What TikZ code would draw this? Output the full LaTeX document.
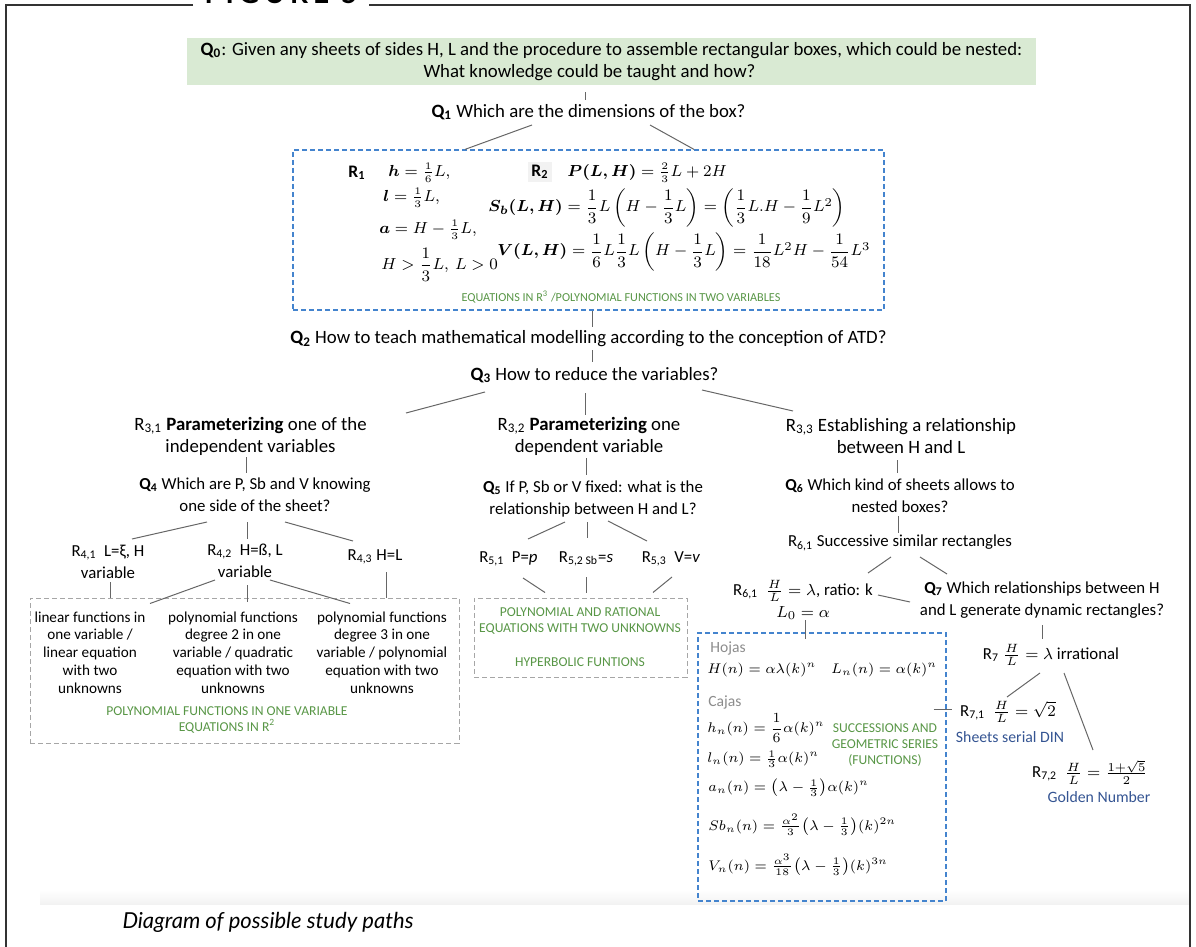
\documentclass[tikz,border=0pt]{standalone}
\usepackage{amsmath,bm}
\usepackage{fontspec}
\setmainfont{Carlito}
\newfontfamily\capfont{Lato}
\usetikzlibrary{calc}

\definecolor{qgreen}{RGB}{217,234,211}
\definecolor{lblgreen}{RGB}{88,150,70}
\definecolor{dashblue}{RGB}{68,132,206}
\definecolor{navytext}{RGB}{52,84,146}
\definecolor{hintgray}{RGB}{140,140,140}

\newcommand{\Qn}[1]{\textbf{Q\textsubscript{#1}}}
\newcommand{\Rn}[1]{R\textsubscript{#1}}

\tikzset{
  every node/.style={inner sep=0pt, font=\fontsize{8.4}{11}\selectfont},
  bigq/.style={font=\fontsize{9.4}{11}\selectfont},
  link/.style={draw=black!60, line width=0.5pt},
  bluebox/.style={draw=dashblue, line width=0.6pt, dash pattern=on 2.5pt off 1.5pt},
  graybox/.style={draw=black!35, line width=0.5pt, dash pattern=on 2.5pt off 1.5pt},
  greenlbl/.style={text=lblgreen, align=center, font=\fontsize{6.8}{8}\selectfont},
  colnote/.style={align=center, font=\fontsize{7.6}{8.9}\selectfont},
  navylbl/.style={text=navytext, font=\fontsize{7.9}{10}\selectfont},
  hintlbl/.style={text=hintgray, anchor=west, font=\fontsize{7.8}{10}\selectfont},
  eqn/.style={anchor=west, font=\fontsize{7.6}{10}\selectfont},
  eqnbig/.style={anchor=west, font=\fontsize{8}{10}\selectfont},
  seqn/.style={anchor=west, font=\fontsize{7.4}{10}\selectfont}
}

\begin{document}
\begin{tikzpicture}[x=0.5pt, y=-0.5pt]
\useasboundingbox (0,0) rectangle (1196,947);
\clip (0,0) rectangle (1196,947);

\shade[top color=white, bottom color=black!5] (40,890) rectangle (1190,904);
\draw[black!80, line width=0.9pt] (193,5) -- (6,5) -- (6,960)
  (369,5) -- (1190,5) -- (1190,960);
\node[anchor=base, font=\capfont\bfseries\fontsize{14}{14}\selectfont\addfontfeatures{LetterSpace=18}] (title) at (281,4) {FIGURE 5};

\node[bigq, fill=qgreen, minimum width=424.5pt, minimum height=23.5pt, align=center] (q0) at (611.5,61.5)
  {\Qn{0}: Given any sheets of sides H, L and the procedure to assemble rectangular boxes, which could be nested:\\
   What knowledge could be taught and how?\hspace*{22pt}};
\node[bigq] (q1) at (588.5,112) {\Qn{1} Which are the dimensions of the box?};

\node[bluebox, minimum width=295.5pt, minimum height=80pt] (eqs) at (588.5,230) {};
\node[font=\bfseries\fontsize{8.8}{11}\selectfont] (r1) at (357,173) {R\textsubscript{1}};
\node[eqn] (r1h) at (388,173) {$\bm{h} = \frac{1}{6}L,$};
\node[eqn] (r1l) at (383,198) {$\bm{l} = \frac{1}{3}L,$};
\node[eqn] (r1a) at (379,230) {$\bm{a} = H - \frac{1}{3}L,$};
\node[eqn] (r1c) at (381,265) {$H > \dfrac{1}{3}L,\ L > 0$};
\node[fill=black!5, inner sep=1.5pt, font=\bfseries\fontsize{8.8}{11}\selectfont] (r2) at (540,172) {R\textsubscript{2}};
\node[eqn] (r2p) at (567,173) {$\bm{P(L,H)} = \frac{2}{3}L + 2H$};
\node[eqnbig] (r2s) at (488,208) {$\bm{S_b(L,H)} = \dfrac{1}{3}L\left(H - \dfrac{1}{3}L\right) = \left(\dfrac{1}{3}L.H - \dfrac{1}{9}L^2\right)$};
\node[eqnbig] (r2v) at (497,252) {$\bm{V(L,H)} = \dfrac{1}{6}L\dfrac{1}{3}L\left(H - \dfrac{1}{3}L\right) = \dfrac{1}{18}L^2H - \dfrac{1}{54}L^3$};
\node[greenlbl, font=\fontsize{6.1}{8}\selectfont] (eqslbl) at (621,297) {EQUATIONS IN R\textsuperscript{3} /POLYNOMIAL FUNCTIONS IN TWO VARIABLES};

\node[bigq] (q2) at (588.5,339) {\Qn{2} How to teach mathematical modelling according to the conception of ATD?};
\node[bigq] (q3) at (594.5,375) {\Qn{3} How to reduce the variables?};

\node[bigq, align=center] (r31) at (250.5,436) {\Rn{3,1} \textbf{Parameterizing} one of the\\independent variables};
\node[bigq, align=center] (r32) at (589,436) {\Rn{3,2} \textbf{Parameterizing} one\\dependent variable};
\node[bigq, align=center] (r33) at (901,436) {\Rn{3,3} Establishing a relationship\\between H and L};

\node[align=center] (q4) at (255,494.5) {\Qn{4} Which are P, Sb and V knowing\\one side of the sheet?};
\node[align=center] (q5) at (593,499) {\Qn{5} If P, Sb or V fixed: what is the\\relationship between H and L?};
\node[align=center] (q6) at (900,495.5) {\Qn{6} Which kind of sheets allows to\\nested boxes?};

\node[align=center] (r41) at (108,562) {\Rn{4,1}\ \ L=ξ, H\\variable};
\node[align=center] (r42) at (245,560.5) {\Rn{4,2}\ \ H=ß, L\\variable};
\node (r43) at (375,557) {\Rn{4,3} H=L};

\node[graybox, minimum width=214.5pt, minimum height=72.5pt] (polybox) at (244.5,670.5) {};
\node[colnote] (col1) at (90,652.5) {linear functions in\\one variable /\\linear equation\\with two\\unknowns};
\node[colnote] (col2) at (233,652.5) {polynomial functions\\degree 2 in one\\variable / quadratic\\equation with two\\unknowns};
\node[colnote] (col3) at (382,652.5) {polynomial functions\\degree 3 in one\\variable / polynomial\\equation with two\\unknowns};
\node[greenlbl] (polylbl) at (227,720) {POLYNOMIAL FUNCTIONS IN ONE VARIABLE\\EQUATIONS IN R\textsuperscript{2}};

\node (r51) at (508.5,559) {\Rn{5,1}\ \ P=\textit{p}};
\node (r52) at (586,559) {\Rn{5,2 Sb}=\textit{s}};
\node (r53) at (671,559) {\Rn{5,3}\ \ V=\textit{v}};

\node[graybox, minimum width=106.5pt, minimum height=39.5pt] (ratbox) at (580.5,637.5) {};
\node[greenlbl] (ratlbl) at (580,621) {POLYNOMIAL AND RATIONAL\\EQUATIONS WITH TWO UNKNOWNS};
\node[greenlbl] (hyplbl) at (580,662) {HYPERBOLIC FUNTIONS};

\node (r61) at (900,543) {\Rn{6,1} Successive similar rectangles};
\node[align=center] (r61b) at (803,600) {\Rn{6,1}\ \ $\frac{H}{L} = \lambda$, ratio: k\\$L_0 = \alpha$};
\node[align=center] (q7) at (1042,600) {\Qn{7} Which relationships between H\\and L generate dynamic rectangles?};

\node[bluebox, minimum width=124pt, minimum height=134pt] (seqbox) at (822,767) {};
\node[hintlbl] (hojas) at (710,648) {Hojas};
\node[seqn] (eqhoja) at (707,670) {$H(n) = \alpha\lambda(k)^n \quad L_n(n) = \alpha(k)^n$};
\node[hintlbl] (cajas) at (708,702) {Cajas};
\node[seqn] (eqh) at (707,728) {$h_n(n) = \dfrac{1}{6}\alpha(k)^n$};
\node[seqn] (eql) at (707,759) {$l_n(n) = \frac{1}{3}\alpha(k)^n$};
\node[seqn] (eqa) at (708,788) {$a_n(n) = \bigl(\lambda - \frac{1}{3}\bigr)\alpha(k)^n$};
\node[seqn] (eqsb) at (708,825) {$Sb_n(n) = \frac{\alpha^2}{3}\bigl(\lambda - \frac{1}{3}\bigr)(k)^{2n}$};
\node[seqn] (eqv) at (708,865) {$V_n(n) = \frac{\alpha^3}{18}\bigl(\lambda - \frac{1}{3}\bigr)(k)^{3n}$};
\node[greenlbl] (seqlbl) at (885,745) {SUCCESSIONS AND\\GEOMETRIC SERIES\\(FUNCTIONS)};

\node (r7) at (1051,655) {\Rn{7} $\frac{H}{L} = \lambda$ irrational};
\node (r71) at (1008,712) {\Rn{7,1}\ \ $\frac{H}{L} = \sqrt{2}$};
\node[navylbl] (din) at (1010,737) {Sheets serial DIN};
\node (r72) at (1090,772) {\Rn{7,2}\ \ $\frac{H}{L} = \frac{1+\sqrt{5}}{2}$};
\node[navylbl] (golden) at (1099,797) {Golden Number};

\node[font=\capfont\itshape\fontsize{11}{12}\selectfont] (caption) at (268,922) {Diagram of possible study paths};

\draw[link] ($(q0.south)+(-26.5,7)$) -- ($(q1)+(-3.5,-12)$);
\draw[link] ($(q1)+(-56.5,13)$) -- ($(eqs.north)+(-123.5,0)$);
\draw[link] ($(q1)+(61.5,13)$) -- ($(eqs.north)+(105.5,0)$);
\draw[link] ($(eqs.south)+(3.5,0)$) -- ($(q2)+(3.5,-12)$);
\draw[link] ($(q2)+(3.5,11)$) -- ($(q3)+(-2.5,-13)$);

\draw[link] ($(q3)+(-109.5,17)$) -- ($(r31)+(155.5,-23)$);
\draw[link] ($(q3)+(-9,18)$) -- ($(r32)+(-3.5,-21)$);
\draw[link] ($(q3)+(107.5,15)$) -- ($(r33)+(-108,-25)$);
\draw[link] ($(r31)+(-4.5,21)$) -- ($(q4)+(-9,-21.5)$);
\draw[link] ($(r32)+(-3,22)$) -- ($(q5)+(-7,-24)$);
\draw[link] ($(r33)+(-4,24)$) -- ($(q6)+(-3,-22.5)$);

\draw[link] ($(q4)+(-48,27.5)$) -- ($(r41)+(24,-23)$);
\draw[link] ($(q4)+(-8,27.5)$) -- ($(r42)+(2,-21.5)$);
\draw[link] ($(q4)+(30,27.5)$) -- ($(r43)+(-22,-16)$);
\draw[link] ($(r41)+(2,20)$) -- ($(polybox.north)+(-134.5,0)$);
\draw[link] ($(r42)+(-30,19.5)$) -- ($(polybox.north)+(-94.5,6)$);
\draw[link] ($(r42)+(2,24.5)$) -- ($(polybox.north)+(2.5,4)$);
\draw[link] ($(r42)+(25,19.5)$) -- ($(polybox.north)+(105.5,6)$);
\draw[link] ($(r43)+(11,15)$) -- ($(polybox.north)+(141.5,0)$);

\draw[link] ($(q5)+(-28,23)$) -- ($(r51)+(19.5,-20)$);
\draw[link] ($(q5)+(-6,23)$) -- ($(r52)+(1,-21)$);
\draw[link] ($(q5)+(15,22)$) -- ($(r53)+(-24,-18)$);
\draw[link] ($(r51)+(14.5,19)$) -- ($(ratbox.north)+(-35.5,-5)$);
\draw[link] ($(r52)+(0,18)$) -- ($(ratbox.north)+(5.5,-5)$);
\draw[link] ($(r53)+(1,18)$) -- ($(ratbox.north)+(72.5,-5)$);

\draw[link] ($(q6)+(-2,20.5)$) -- ($(r61)+(-2,-10)$);
\draw[link] ($(r61)+(-9,14)$) -- ($(r61b)+(65,-27)$);
\draw[link] ($(r61)+(20,14)$) -- ($(q7)+(-95,-26)$);
\draw[link] ($(r61b)+(75,-5)$) -- ($(q7)+(-132,2)$);
\draw[link] ($(r61b)+(2,20)$) -- ($(seqbox.north)+(-17,7)$);
\draw[link] ($(q7)+(0,25)$) -- ($(r7)+(-9,-16)$);
\draw[link] ($(r7)+(-11,18)$) -- ($(r71)+(-1,-15)$);
\draw[link] ($(r7)+(13,18)$) -- ($(r72)+(3,-22)$);
\draw[link] ($(seqbox.east)+(-13,-58)$) -- ($(r71)+(-56,-3)$);

\end{tikzpicture}
\end{document}
